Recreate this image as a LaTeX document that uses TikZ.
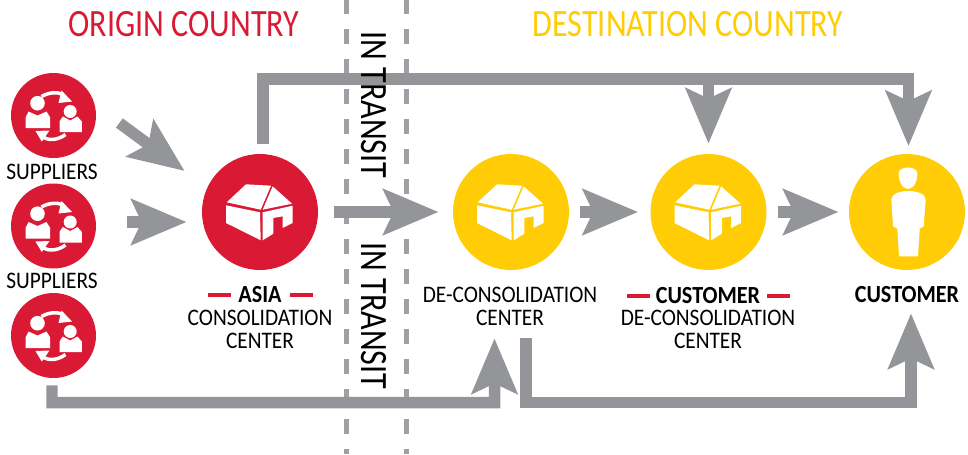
\documentclass[tikz,border=0pt]{standalone}
\usepackage{fontspec}
\setmainfont[FakeStretch=0.90]{Carlito}
\newfontfamily\narrowfont[FakeStretch=0.83]{Carlito}
\usetikzlibrary{arrows.meta}
\definecolor{dhlred}{HTML}{DA1A35}
\definecolor{dhlyellow}{HTML}{FFCC05}
\definecolor{flowgray}{HTML}{939598}
\tikzset{
  hub/.style={circle, fill=#1, minimum size=2.32cm, inner sep=0pt},
  source/.style={circle, fill=dhlred, minimum size=1.7cm, inner sep=0pt},
  flow/.style={line width=0.23cm, flowgray, -{Stealth[length=1.1cm, width=0.9cm, inset=0.2cm]}},
  plainlabel/.style={font=\fontsize{13.5}{15}\selectfont, inner sep=0pt},
  boldlabel/.style={font=\fontsize{14}{15}\selectfont\bfseries, inner sep=0pt},
  title/.style={font=\narrowfont\fontsize{22}{24}\selectfont, inner sep=0pt},
  transit/.style={font=\narrowfont\fontsize{22}{24}\selectfont, rotate=-90, inner sep=0pt},
  border/.style={line width=0.1cm, flowgray!90, dash pattern=on 0.3cm off 0.3cm},
  house/.pic={
    \fill[white] (-33.3,-9.7) -- (-14,-27.7) -- (11,-26.3) -- (0.7,-2.3) -- cycle;
    \fill[white] (12.7,-25.7) -- (32,-8.3) -- (2.7,-2.3) -- cycle;
    \fill[white] (-34,-6.7) -- (0,0.3) -- (0.7,28.3) -- (-34,11) -- cycle;
    \fill[white] (2.7,0.3) -- (32.7,-6.3) -- (32.7,11) -- (22.7,16) -- (22.7,4.3) -- (13.3,6) -- (13.3,21.7) -- (2.7,28.3) -- cycle;
  },
  people/.pic={
    \fill[white] (-16,-12.3) circle (7.3);
    \fill[white] (-28,12.7) -- (-28,2) -- (-25,-4) -- (-16,0) -- (-7,-4) -- (-3.3,2) -- (-3.3,12.7) -- cycle;
    \fill[white] (16.7,-4) circle (6.5);
    \fill[white] (6,16.7) -- (6,6) -- (9.3,1) -- (16.7,5) -- (24,1) -- (28.3,6) -- (28.3,16.7) -- cycle;
    \draw[white, line width=0.07cm] (-12,-19) .. controls (-5,-23) and (3,-24) .. (10,-21);
    \fill[white] (8,-25) -- (18.5,-14) -- (5,-12.5) -- cycle;
    \draw[white, line width=0.07cm] (12,19) .. controls (4,25) and (-5,25) .. (-10,22);
    \fill[white] (-18,15.5) -- (-4,15) -- (-11.7,26) -- cycle;
  },
  person/.pic={
    \fill[white] (-8.2,-40) .. controls (-6,-46) and (8,-46) .. (10.2,-40) .. controls (11,-32) and (7,-23) .. (1,-23) .. controls (-5,-23) and (-9,-32) .. (-8.2,-40) -- cycle;
    \fill[white] (-15.7,-12.3) .. controls (-15.7,-18) and (-8,-21) .. (1,-21) .. controls (10,-21) and (18.7,-18) .. (18.7,-12.3) -- (16.7,14.3) -- (12.7,16.7) -- (11,44.3) -- (-8,44.3) -- (-9.7,16.7) -- (-14,14.3) -- cycle;
  },
}
\begin{document}
\begin{tikzpicture}[x=0.02cm, y=-0.02cm]
\useasboundingbox (0,0) rectangle (968,454);
% zone borders
\draw[border] (346,-1) -- (346,454);
\draw[border] (406,-1) -- (406,454);
\node[title, text=dhlred] (origin) at (184,24) {ORIGIN COUNTRY};
\node[title, text=dhlyellow] (destination) at (688,24) {DESTINATION COUNTRY};
% circles
\foreach \name/\ypos in {s1/115.5, s2/226, s3/335.5} {
  \node[source] (\name) at (53.5,\ypos) {};
  \pic at (\name) {people};
}
\node[hub=dhlred] (asia) at (260,212) {};
\node[hub=dhlyellow] (deco) at (511,212) {};
\node[hub=dhlyellow] (cdc) at (708.5,212) {};
\node[hub=dhlyellow] (cust) at (907,212) {};
\pic at (asia) {house};
\pic at (deco) {house};
\pic at (cdc) {house};
\pic at (cust) {person};
% connectors
\coordinate (topasia) at (263,79);
\coordinate (topcust) at (908.5,79);
\coordinate (lowsource) at (52,402.5);
\coordinate (lowdeco) at (494.5,402.5);
\coordinate (lowout) at (526,402.5);
\coordinate (lowcust) at (911,402.5);
\draw[flow] ([shift={(23,7.5)}]s1.east) -- ([shift={(-17,-41)}]asia.west);
\draw[flow] ([shift={(31,-4)}]s2.east) -- ([shift={(-15,10)}]asia.west);
\draw[flow] ([shift={(16,0)}]asia.east) -- ([shift={(-14,0)}]deco.west);
\draw[flow] ([shift={(11,0)}]deco.east) -- ([shift={(-12,0)}]cdc.west);
\draw[flow] ([shift={(11,0)}]cdc.east) -- ([shift={(-10,0)}]cust.west);
\draw[flow] ([shift={(3,-10)}]asia.north) -- (topasia) -- (topcust) -- ([shift={(1.5,-7.5)}]cust.north);
\draw[flow] (cdc.north |- topasia) -- ([yshift=0.2cm]cdc.north);
\draw[flow] ([shift={(-1.5,7)}]s3.south) -- (lowsource) -- (lowdeco) -- ([shift={(-16.5,68)}]deco.south);
\draw[flow] ([shift={(15,68)}]deco.south) -- (lowout) -- (lowcust) -- ([shift={(4,43)}]cust.south);
% labels
\node[transit] (transit1) at (374,105) {IN TRANSIT};
\node[transit] (transit2) at (374,316) {IN TRANSIT};
\node[plainlabel] (sup1) at (52,172) {SUPPLIERS};
\node[plainlabel] (sup2) at (52,281) {SUPPLIERS};
\node[boldlabel] (asialabel) at (260,295) {ASIA};
\node[plainlabel] (cons) at (260,318) {CONSOLIDATION};
\node[plainlabel] (conscenter) at (260,341) {CENTER};
\node[plainlabel] (decolabel) at (510,295) {DE-CONSOLIDATION};
\node[plainlabel] (decocenter) at (510,318) {CENTER};
\node[boldlabel] (cdclabel) at (708,296) {CUSTOMER};
\node[plainlabel] (cdcname) at (708,318) {DE-CONSOLIDATION};
\node[plainlabel] (cdccenter) at (708,341) {CENTER};
\node[boldlabel] (custlabel) at (907,295) {CUSTOMER};
% red dashes
\draw[line width=0.07cm, dhlred] (208,295) -- (231,295) (290,295) -- (313,295);
\draw[line width=0.07cm, dhlred] (627,296) -- (650,296) (767,296) -- (790,296);
\end{tikzpicture}
\end{document}
